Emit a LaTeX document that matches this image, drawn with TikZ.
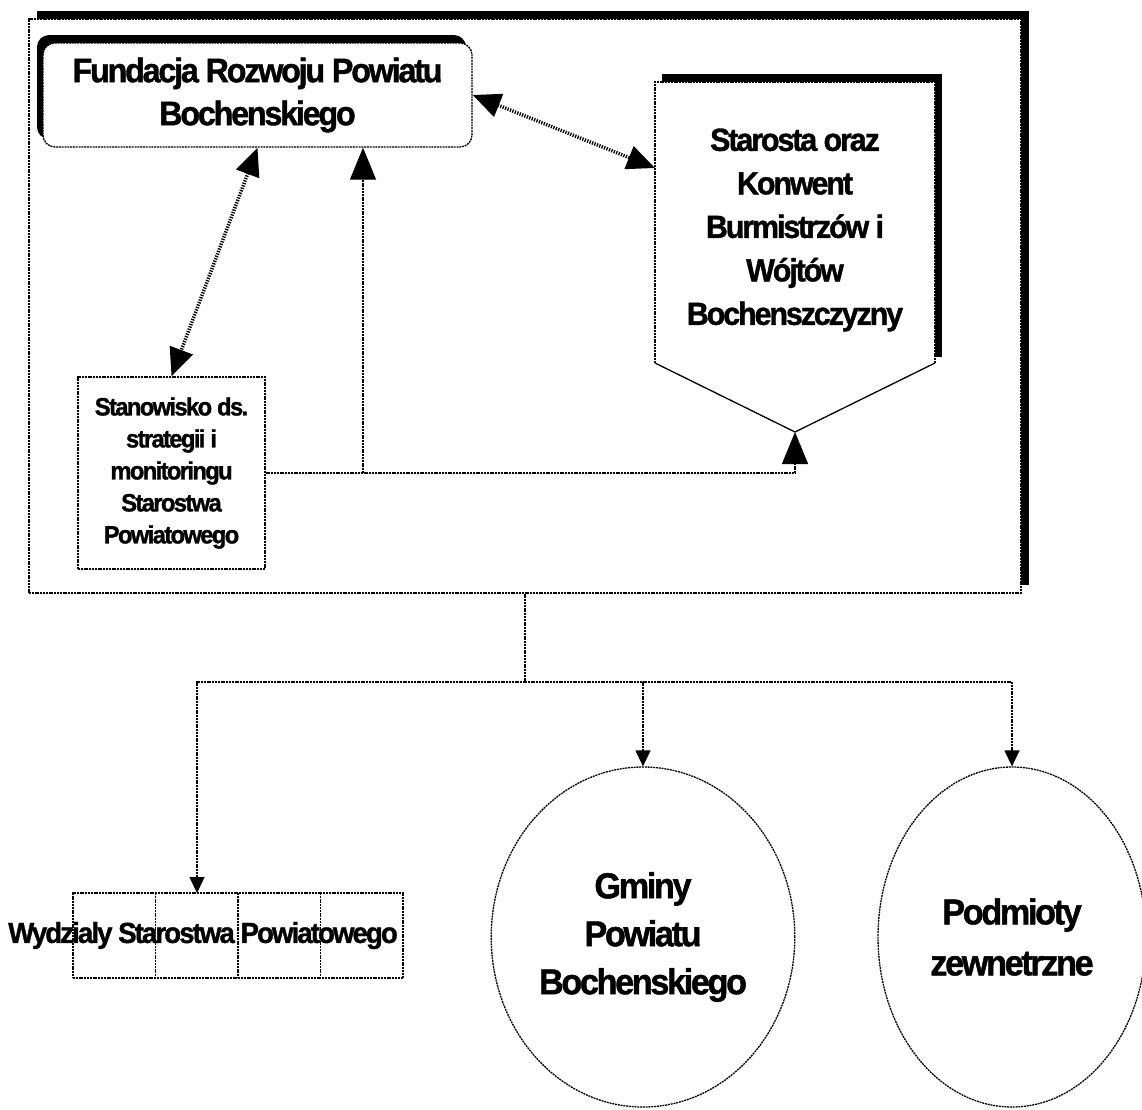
\documentclass[tikz,border=0pt]{standalone}
\usepackage{fontspec}
\setmainfont{Liberation Sans}
\newfontfamily\orgfont[FakeStretch=0.95, LetterSpace=-6.5, FakeBold=1.2]{Liberation Sans Bold}
\usetikzlibrary{arrows.meta,shapes.geometric,shadows}

\begin{document}
\begin{tikzpicture}[x=1pt, y=-1pt,
    fine/.style={line width=1.3pt, dash pattern=on 2pt off 0.8pt},
    bigtip/.style={-{Triangle[length=32pt,width=26pt]}},
    smalltip/.style={-{Triangle[length=16pt,width=15pt]}},
    duplex/.style={line width=3.5pt, dash pattern=on 1.3pt off 1.3pt,
        {Triangle[length=28pt,width=24pt]}-{Triangle[length=28pt,width=24pt]}},
    lbl/.style 2 args={font=\orgfont\fontsize{#1}{#2}\selectfont, align=center},
    blackshadow/.style 2 args={drop shadow={shadow xshift=#1, shadow yshift=#2, fill=black, opacity=1}}]
    \useasboundingbox (0,0) rectangle (1142,1109);

    % upper frame
    \node[draw, fine, fill=white, minimum width=992pt, minimum height=574pt,
        blackshadow={8pt}{8pt}] (frame) at (525,306) {};

    \node[draw, fine, fill=white, rounded corners=12pt, minimum width=429pt, minimum height=104pt,
        blackshadow={-6pt}{8pt}, lbl={34}{43}] (fund) at (257.5,95) {Fundacja Rozwoju Powiatu\\Bochenskiego};

    % starosta pentagon
    \fill (662,74) rectangle (942,357);
    \fill[white] (655,82) -- (935,82) -- (935,363) -- (795,432) -- (655,363) -- cycle;
    \draw[fine] (655,363) -- (655,82) -- (935,82) -- (935,363);
    \draw[line width=1.3pt] (655,363) -- (795,432) coordinate (startip) -- (935,363);
    \node[lbl={32}{43.5}] (star) at (795,230) {Starosta oraz\\Konwent\\Burmistrzów i\\Wójtów\\Bochenszczyzny};
    \coordinate (starleft) at (655,168);

    \node[draw, fine, minimum width=187pt, minimum height=192pt, lbl={25}{32}] (stan) at (171.5,473)
        {Stanowisko ds.\\strategii i\\monitoringu\\Starostwa\\Powiatowego};

    \draw[duplex] (fund.south) -- (stan.north);
    \draw[duplex] (fund.east) -- (starleft);
    \draw[fine, bigtip] (stan.east) -| (startip);
    \coordinate (branch) at (363,473);
    \draw[fine, bigtip] (branch) -- (branch |- fund.south);

    % lower part
    \coordinate (hub) at (525,682);
    \draw[fine] (frame.south) -- (hub);

    \node[draw, fine, minimum width=330pt, minimum height=85pt] (wydz) at (238,935.5) {};
    \foreach \x in {155.5,238,320.5}
        \draw[fine] (\x,893) -- (\x,978);
    \node[lbl={29}{35}] (wydztxt) at (203,935.5) {Wydzialy Starostwa Powiatowego};
    \coordinate (wydzin) at (197,893);

    \node[draw, fine, ellipse, minimum width=272pt, minimum height=340pt, lbl={36}{48}] (gminy) at (643,937)
        {Gminy\\Powiatu\\Bochenskiego};
    \node[draw, fine, ellipse, minimum width=268pt, minimum height=340pt, lbl={36}{51}] (podm) at (1012,937)
        {Podmioty\\zewnetrzne};

    \draw[fine, smalltip] (hub) -| (wydzin);
    \draw[fine, smalltip] (hub) -| (gminy.north);
    \draw[fine, smalltip] (hub) -| (podm.north);
\end{tikzpicture}
\end{document}
